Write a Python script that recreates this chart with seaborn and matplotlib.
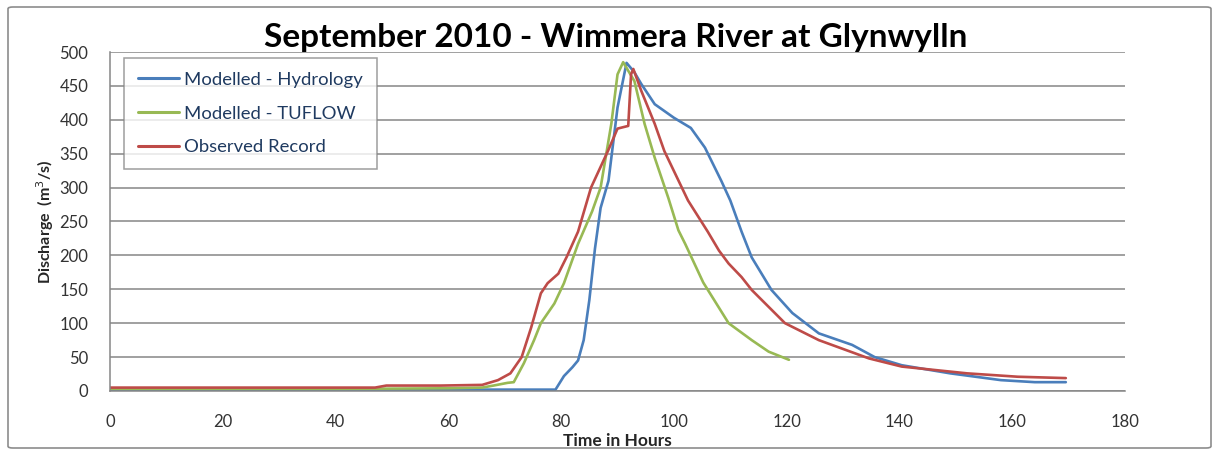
import matplotlib
matplotlib.use("Agg")
import matplotlib.pyplot as plt
from matplotlib.patches import FancyBboxPatch
import pandas as pd
import seaborn as sns

# Hydrograph series (time in hours, discharge in m3/s)
hydro_hours = [0, 10, 20, 30, 40, 50, 60, 70, 79, 80.5, 82, 83, 84, 85, 86, 87,
               88.4, 90, 91.6, 93, 94.2, 96.6, 100, 103, 105.5, 108.4, 110, 112,
               113.8, 117.3, 121, 125.7, 131.6, 135.6, 140.4, 149, 158, 164, 169.5]
hydro_flow = [2, 2, 2, 2, 2, 2, 2, 2, 2, 22, 35, 45, 75, 134, 210, 270,
              310, 418, 484, 470, 453, 423, 403, 388, 359, 310, 281, 235,
              197, 149, 115, 85, 68, 50, 38, 26, 16, 13, 13]

tuflow_hours = [0, 20, 40, 60, 66, 68, 70.5, 71.6, 73.4, 75.2, 76.4, 78.8, 80.5,
                83, 85.5, 87, 88.9, 90, 91, 93, 94.8, 96.6, 99, 100.8, 102,
                105.2, 109.7, 113.8, 116.8, 120.4]
tuflow_flow = [3, 3, 3, 4, 5, 8, 12, 13, 41, 75, 100, 129, 159,
               217, 265, 300, 394, 467, 485, 457, 394, 344, 285, 237, 217,
               160, 100, 75, 58, 46]

obs_hours = [0, 10, 20, 30, 40, 47, 49, 58.7, 66, 68.8, 71, 73, 74.7, 76.4, 77.6,
             79.5, 81, 83, 85.3, 88.3, 90, 91.9, 92.4, 92.8, 94.2, 96.6, 98.3,
             102.5, 106, 108, 109.7, 112, 113.8, 119.7, 125.7, 134.6, 140.4, 152,
             161, 169.5]
obs_flow = [5, 5, 5, 5, 5, 5, 8, 8, 9, 16, 26, 50, 94, 144, 159,
            173, 198, 235, 300, 354, 387, 391, 467, 475, 443, 394, 354,
            281, 235, 207, 188, 168, 149, 100, 75, 48, 36, 26,
            21, 19]

series_names = ["Modelled - Hydrology", "Modelled - TUFLOW", "Observed Record"]
series_colors = ["#4A7EBB", "#98B954", "#BE4B48"]

x_ticks = list(range(0, 181, 20))
y_ticks = list(range(0, 501, 50))

sns.set_theme(style="white")
plt.rcParams["font.family"] = ["Lato", "DejaVu Sans"]

fig = plt.figure(figsize=(12.21, 4.55), dpi=100)
ax = fig.add_axes([0.0901, 0.1407, 0.8313, 0.745])

frames = [
    pd.DataFrame({"hours": hydro_hours, "flow": hydro_flow}),
    pd.DataFrame({"hours": tuflow_hours, "flow": tuflow_flow}),
    pd.DataFrame({"hours": obs_hours, "flow": obs_flow}),
]
for df, name, col in zip(frames, series_names, series_colors):
    sns.lineplot(data=df, x="hours", y="flow", ax=ax, color=col,
                 linewidth=1.9, label=name, sort=False, estimator=None)

grid_col = "#868686"
ax.set_xlim(0, 180)
ax.set_ylim(0, 500)
ax.set_xticks(x_ticks)
ax.set_yticks(y_ticks)
ax.yaxis.grid(True, color=grid_col, linewidth=1.1)
ax.xaxis.grid(False)
ax.set_axisbelow(True)
for side in ["top", "right"]:
    ax.spines[side].set_visible(False)
for side in ["left", "bottom"]:
    ax.spines[side].set_color(grid_col)
    ax.spines[side].set_linewidth(1.1)
ax.tick_params(axis="both", direction="out", length=5.5, width=1,
               color=grid_col, labelsize=12, labelcolor="#333333")
ax.tick_params(axis="x", pad=11)
ax.tick_params(axis="y", pad=10)

ax.set_xlabel("Time in Hours", fontsize=12.5, fontweight="bold", labelpad=2.5)
ax.set_ylabel("Discharge  (m$^3$/s)", fontsize=11.5, fontweight="bold", labelpad=2.5)

leg = ax.legend(loc="upper left", bbox_to_anchor=(0.0138, 0.982),
                borderaxespad=0, frameon=True, fancybox=False,
                edgecolor=grid_col, fontsize=13.3, handlelength=2.2,
                handletextpad=0.3, labelspacing=0.95, borderpad=0.75,
                labelcolor="#1F3A60")
leg.get_frame().set_linewidth(1.1)
for line in leg.get_lines():
    line.set_linewidth(2.2)

fig.text(0.504, 1 - 38 / 455, "September 2010 - Wimmera River at Glynwylln",
         ha="center", va="center", fontsize=24, fontweight="bold", color="black")

# Outer chart border
border = FancyBboxPatch((8 / 1221, 7 / 455), 1203 / 1221, 441 / 455,
                        boxstyle="round,pad=0,rounding_size=0.004",
                        transform=fig.transFigure, fill=False,
                        edgecolor="#8C8C8C", linewidth=1.2)
fig.patches.append(border)

fig.savefig("out.png", dpi=100)
